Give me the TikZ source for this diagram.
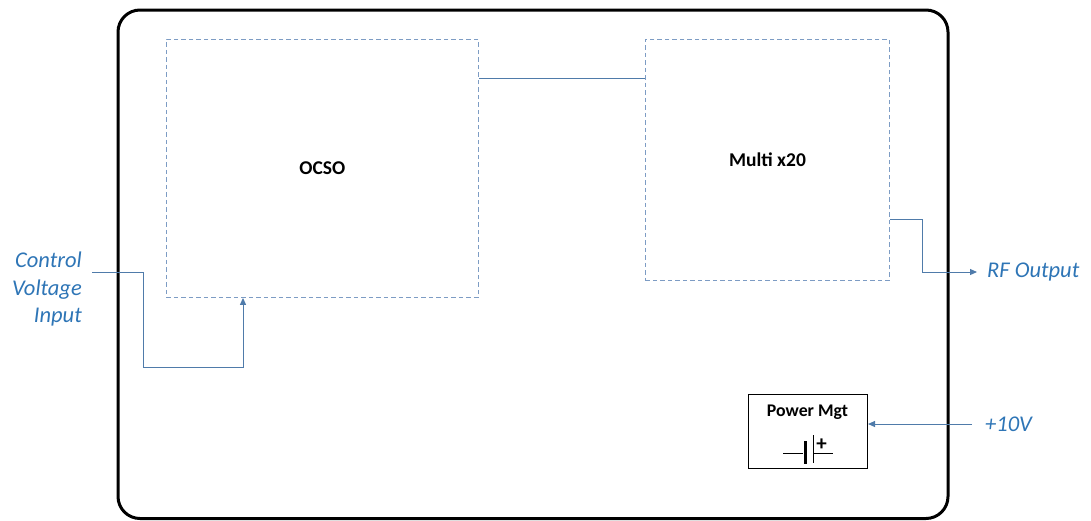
\documentclass[tikz,border=0pt]{standalone}
\usepackage{fontspec}
\setmainfont{Carlito}
\usetikzlibrary{arrows.meta}
\definecolor{lblblue}{HTML}{2E75B6}
\definecolor{lineblue}{HTML}{4F7BAA}
\definecolor{dashblue}{HTML}{7D9CC4}
\tikzset{
  dashbox/.style={draw=dashblue, line width=0.9pt, dash pattern=on 4.5pt off 3pt, inner sep=0pt, anchor=north west, font=\fontsize{19.5}{22}\selectfont\bfseries},
  conn/.style={draw=lineblue, line width=1pt},
  tip/.style={-{Triangle[length=7pt,width=6pt]}},
  lbl/.style={text=lblblue, font=\fontsize{22.5}{27.5}\selectfont\itshape, inner sep=0pt},
}
\begin{document}
\begin{tikzpicture}[x=1pt,y=-1pt]
\useasboundingbox (0,0) rectangle (1091,520);
% outer housing
\draw[line width=3pt, rounded corners=22pt] (118,10) rectangle (948,518.5);
% blocks
\node[dashbox, minimum width=312pt, minimum height=258pt] (ocso) at (166,39) {OCSO};
\node[dashbox, minimum width=244pt, minimum height=241pt] (multi) at (645,39) {Multi x20};
\node[draw, line width=1pt, minimum width=119pt, minimum height=74pt, inner sep=0pt, anchor=north west] (pm) at (748,394) {};
\node[font=\fontsize{17.8}{20}\selectfont\bfseries, inner sep=0pt] (pmt) at (807.5,412) {Power Mgt};
% battery symbol
\draw[line width=0.8pt] (783,453) -- (803,453);
\draw[line width=3pt] (805,441) -- (805,464);
\draw[line width=0.8pt] (813,435) -- (813,463);
\draw[line width=0.8pt] (813,453) -- (833,453);
\node[font=\fontsize{21}{22}\selectfont\bfseries, inner sep=0pt] (plus) at (821.5,444.5) {+};
% labels
\node[lbl, align=right, anchor=east] (cv) at (82,289) {Control\\Voltage\\Input};
\node[lbl, anchor=west] (rf) at (987,272) {RF Output};
\node[lbl, anchor=west] (pv) at (985,424) {+10V};
\coordinate (cvstart) at (92,272);
\coordinate (pvstart) at (972,424);
% connectors
\draw[conn] ([yshift=-39pt]ocso.north east) -- ([yshift=-39pt]multi.north west);
\draw[conn, tip] (cvstart) -- ++(51,0) -- ++(0,95) -| ([xshift=77pt]ocso.south west);
\draw[conn, tip] ([yshift=-59.5pt]multi.east) -- ++(33,0) |- ([xshift=-10pt]rf.west);
\draw[conn, tip] (pvstart) -- (pm.east |- pvstart);
\end{tikzpicture}
\end{document}
